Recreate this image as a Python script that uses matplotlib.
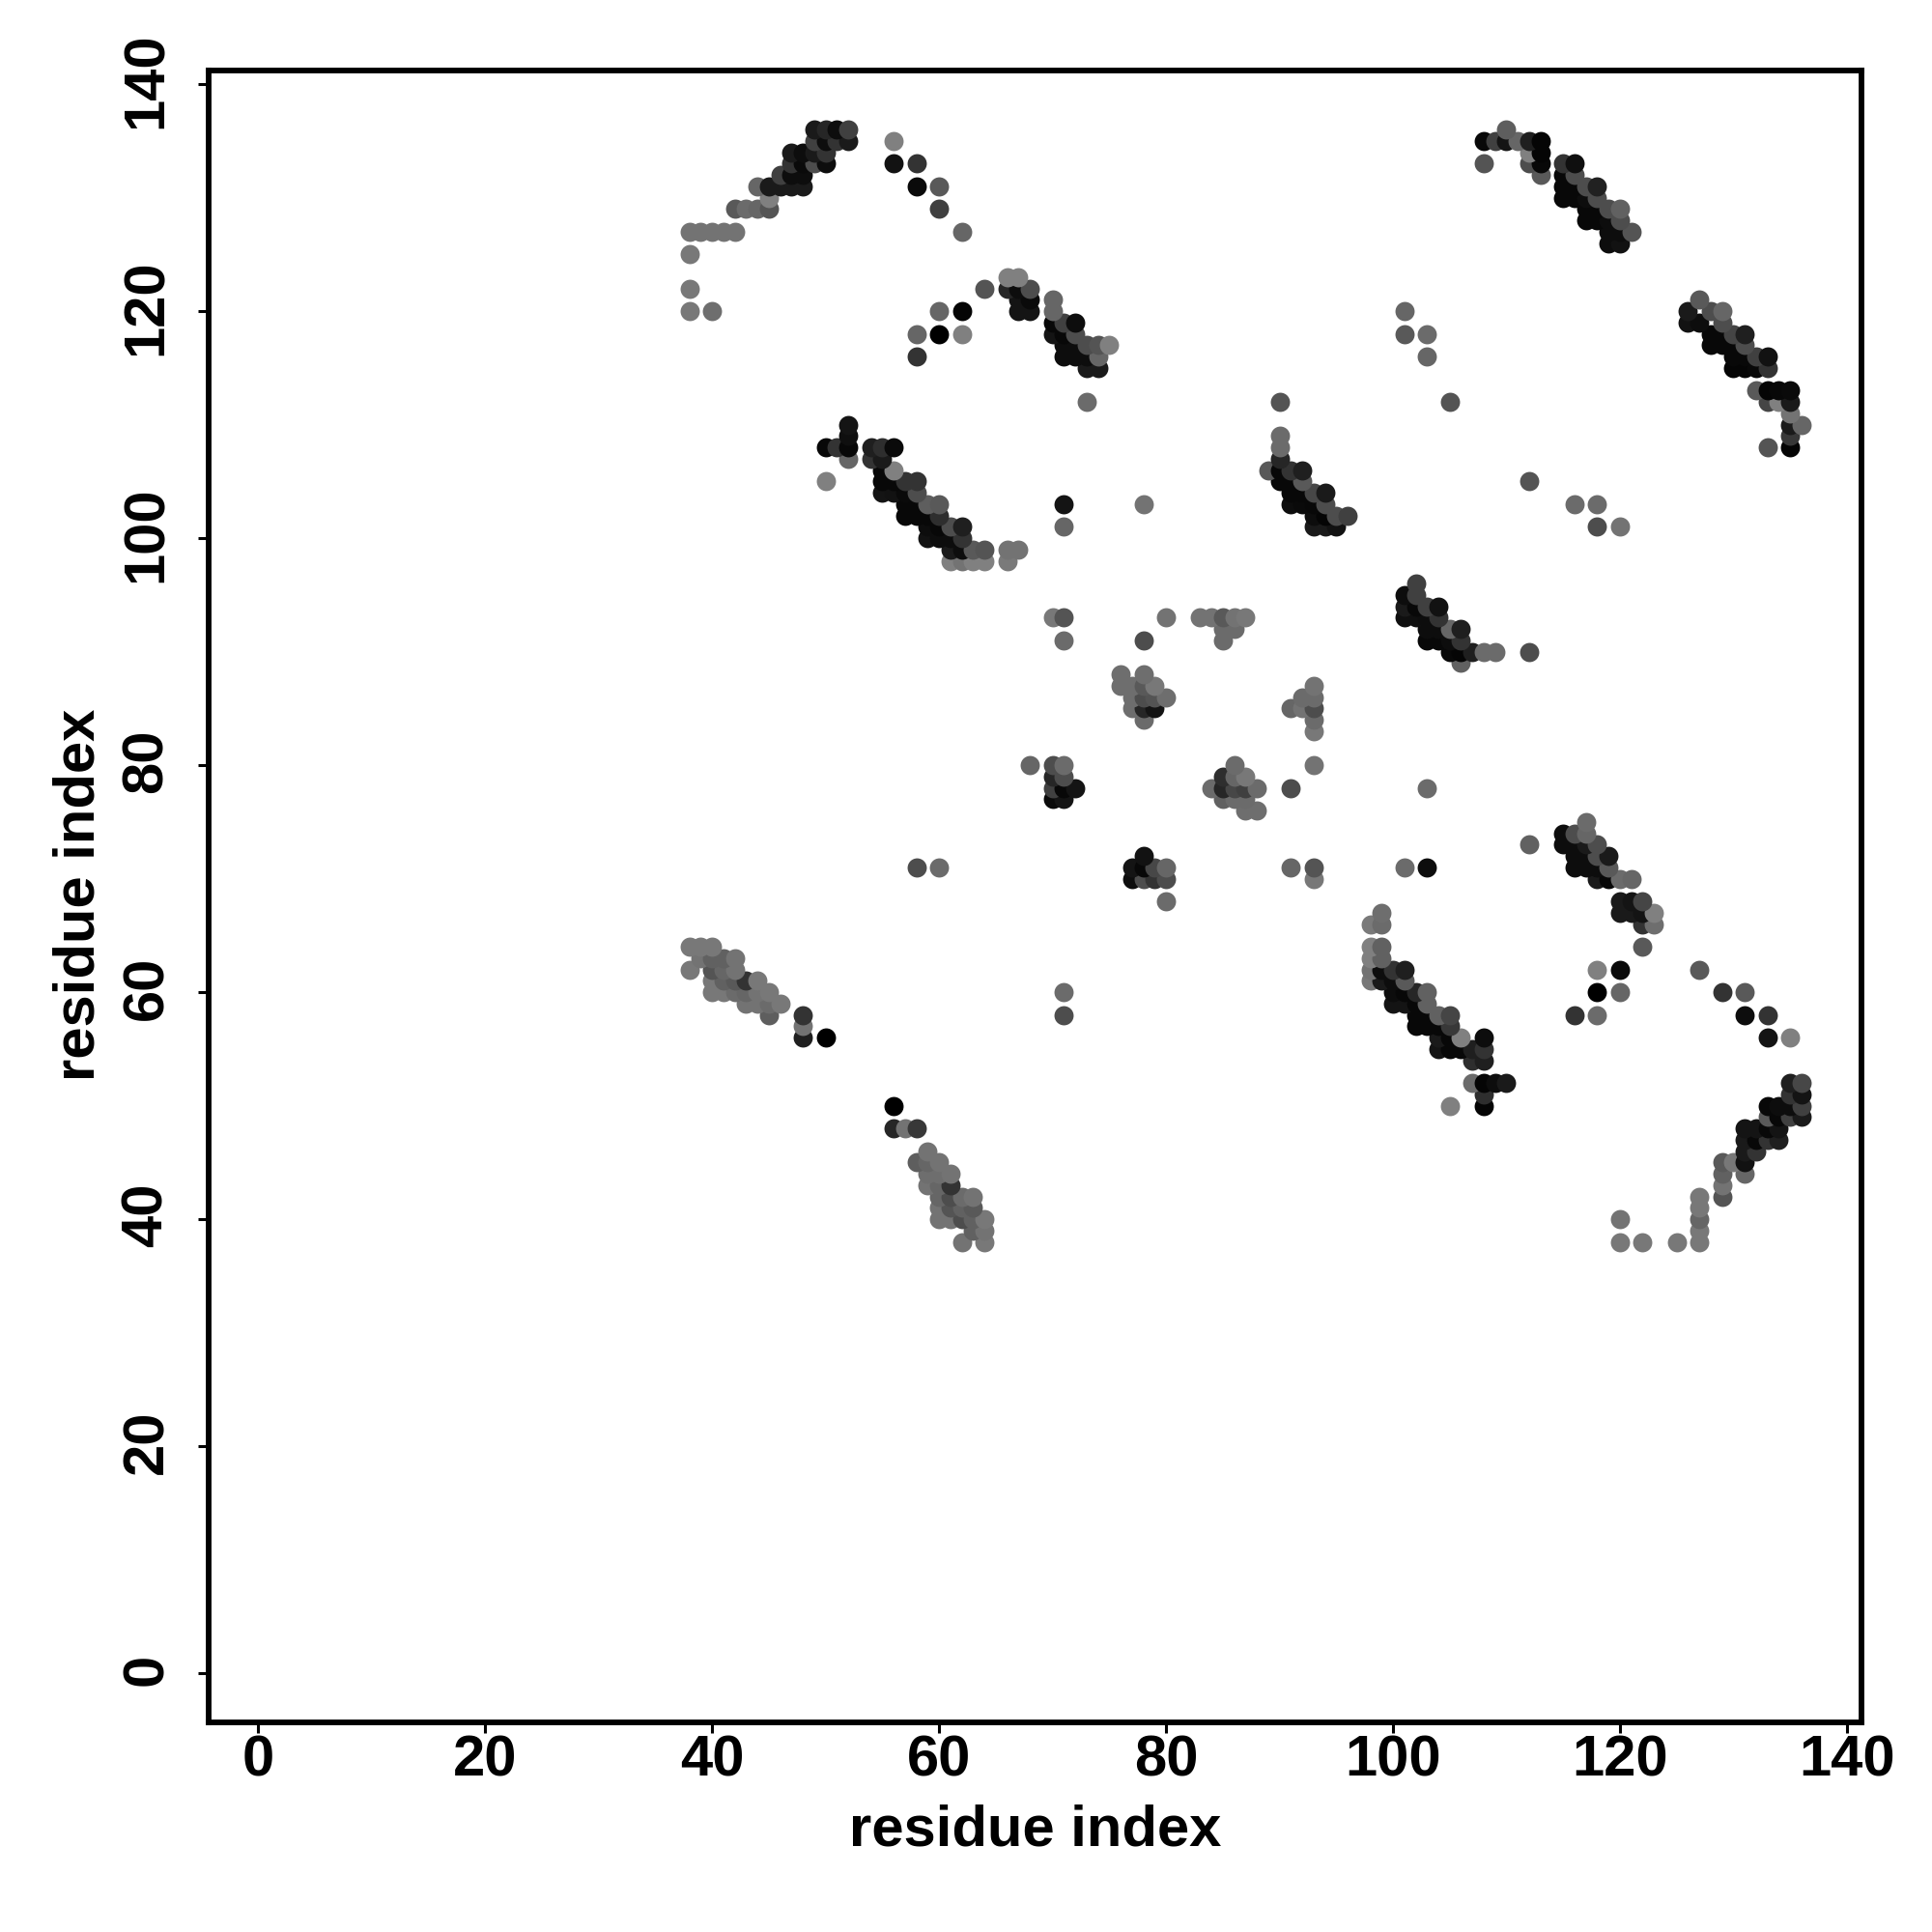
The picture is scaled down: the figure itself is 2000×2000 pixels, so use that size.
import matplotlib
matplotlib.use('Agg')
import matplotlib.pyplot as plt
from matplotlib.transforms import ScaledTranslation

plt.rcParams['font.family'] = ['Liberation Sans', 'DejaVu Sans']
plt.rcParams['font.weight'] = 'bold'

# contact rows: residue on y axis, partner residues on x axis, grey level of each dot
row_y = [38, 39, 40, 41, 42, 43, 44, 45, 46, 47, 48, 49, 50, 51, 52, 54, 55, 56, 57, 58,
         59, 60, 61, 62, 63, 64, 66, 67, 68, 70, 71, 72, 73, 74, 75, 76, 77, 78, 79, 80,
         83, 84, 85, 86, 87, 88, 89, 90, 91, 92, 93, 94, 95, 96, 98, 99, 100, 101, 102,
         103, 104, 105, 106, 107, 108, 109, 110, 111, 112, 113, 115, 116, 117, 118, 119,
         120, 121, 122, 123, 125, 126, 127, 128, 129, 130, 131, 132, 133, 134, 135, 136]
row_x = [
    [62, 64, 120, 122, 125, 127],
    [63, 64, 127],
    [60, 61, 62, 63, 64, 120, 127],
    [60, 61, 62, 63, 127],
    [60, 61, 62, 63, 127, 129],
    [59, 60, 61, 129],
    [59, 60, 61, 129, 131],
    [58, 59, 60, 129, 130, 131],
    [59, 131, 132],
    [131, 132, 133, 134],
    [56, 57, 58, 131, 132, 133, 134],
    [133, 134, 135, 136],
    [56, 105, 108, 133, 134, 135, 136],
    [108, 135, 136],
    [107, 108, 109, 110, 135, 136],
    [107, 108],
    [104, 105, 106, 107, 108],
    [48, 50, 104, 105, 106, 108, 133, 135],
    [48, 102, 103, 104, 105],
    [45, 48, 71, 102, 103, 104, 105, 116, 118, 131, 133],
    [43, 44, 45, 46, 100, 101, 102, 103],
    [40, 41, 42, 43, 44, 45, 71, 100, 101, 102, 103, 118, 120, 129, 131],
    [40, 41, 42, 43, 44, 98, 99, 100, 101],
    [38, 40, 41, 42, 98, 99, 100, 101, 118, 120, 127],
    [39, 40, 41, 42, 98, 99],
    [38, 39, 40, 98, 99, 122],
    [98, 99, 122, 123],
    [99, 120, 121, 122, 123],
    [80, 120, 121, 122],
    [77, 78, 79, 80, 93, 118, 119, 120, 121],
    [58, 60, 77, 78, 79, 80, 91, 93, 101, 103, 116, 117, 118, 119],
    [78, 116, 117, 118, 119],
    [112, 115, 116, 117, 118],
    [115, 116, 117],
    [117],
    [87, 88],
    [70, 71, 85, 86, 87],
    [70, 71, 72, 84, 85, 86, 87, 88, 91, 103],
    [70, 71, 85, 86, 87],
    [68, 70, 71, 86, 93],
    [93],
    [78, 93],
    [77, 78, 79, 91, 92, 93],
    [77, 78, 79, 80, 92, 93],
    [76, 77, 78, 79, 93],
    [76, 78],
    [106],
    [105, 106, 107, 108, 109, 112],
    [71, 78, 85, 103, 104, 105, 106],
    [85, 86, 103, 104, 105, 106],
    [70, 71, 80, 83, 84, 85, 86, 87, 101, 102, 103, 104],
    [101, 102, 103, 104],
    [101, 102],
    [102],
    [61, 62, 63, 64, 66],
    [61, 62, 63, 64, 66, 67],
    [59, 60, 61, 62],
    [59, 60, 61, 62, 71, 93, 94, 95, 118, 120],
    [57, 58, 59, 60, 93, 94, 95, 96],
    [57, 58, 59, 60, 71, 78, 91, 92, 93, 94, 116, 118],
    [55, 56, 57, 58, 91, 92, 93, 94],
    [50, 55, 56, 57, 58, 90, 91, 92, 112],
    [55, 56, 89, 90, 91, 92],
    [52, 54, 55, 90],
    [50, 51, 52, 54, 55, 56, 90, 133, 135],
    [52, 90, 135],
    [52, 135, 136],
    [135],
    [73, 90, 105, 133, 134, 135],
    [132, 133, 134, 135],
    [73, 74, 130, 131, 132, 133],
    [58, 71, 72, 73, 74, 103, 130, 131, 132, 133],
    [71, 72, 73, 74, 75, 128, 129, 130, 131],
    [58, 60, 62, 70, 71, 72, 101, 103, 128, 129, 130, 131],
    [70, 71, 72, 126, 127, 129],
    [38, 40, 60, 62, 67, 68, 70, 101, 126, 128, 129],
    [67, 68, 70, 127],
    [38, 64, 66, 67, 68],
    [66, 67],
    [38],
    [119, 120],
    [38, 39, 40, 41, 42, 62, 119, 120, 121],
    [117, 118, 119, 120],
    [42, 43, 44, 45, 60, 117, 118, 119, 120],
    [45, 115, 116, 117, 118],
    [44, 45, 46, 47, 48, 58, 60, 115, 116, 117, 118],
    [46, 47, 48, 113, 115, 116],
    [47, 48, 49, 50, 56, 58, 108, 112, 113, 115, 116],
    [47, 48, 49, 50, 112, 113],
    [49, 50, 51, 52, 56, 108, 109, 110, 111, 112, 113],
    [49, 50, 51, 52, 110],
]
row_gray = [
    [.45, .47, .47, .47, .47, .47],
    [.38, .45, .47],
    [.45, .45, .30, .38, .47, .45, .40],
    [.45, .33, .38, .35, .47],
    [.40, .30, .42, .45, .47, .33],
    [.45, .40, .20, .45],
    [.43, .43, .45, .38, .40],
    [.37, .40, .45, .35, .47, .07],
    [.45, .10, .20],
    [.10, .03, .20, .12],
    [.15, .45, .22, .08, .08, .03, .08],
    [.35, .03, .25, .10],
    [.00, .50, .02, .03, .05, .05, .25],
    [.18, .20, .08],
    [.42, .02, .05, .10, .12, .28],
    [.18, .12],
    [.08, .03, .03, .12, .20],
    [.12, .00, .10, .03, .50, .05, .08, .50],
    [.45, .03, .03, .03, .22],
    [.37, .20, .30, .03, .03, .38, .27, .20, .42, .05, .20],
    [.45, .45, .42, .47, .08, .08, .03, .38],
    [.47, .47, .42, .40, .45, .47, .42, .05, .03, .15, .38, .00, .40, .20, .35],
    [.47, .38, .35, .20, .47, .47, .10, .05, .35],
    [.47, .33, .40, .45, .45, .05, .20, .12, .50, .04, .35],
    [.45, .38, .38, .45, .50, .38],
    [.47, .47, .47, .50, .38, .35],
    [.48, .42, .20, .43],
    [.43, .10, .10, .08, .50],
    [.42, .10, .08, .27],
    [.05, .30, .20, .30, .47, .10, .03, .42, .40],
    [.30, .42, .08, .03, .28, .40, .40, .33, .42, .05, .05, .05, .05, .35],
    [.07, .05, .05, .30, .10],
    [.38, .05, .05, .10, .30],
    [.05, .30, .40],
    [.42],
    [.43, .43],
    [.04, .08, .38, .42, .42],
    [.25, .03, .08, .42, .15, .28, .25, .42, .30, .42],
    [.15, .30, .18, .40, .47],
    [.40, .30, .42, .42, .45],
    [.47],
    [.42, .42],
    [.43, .15, .08, .40, .45, .30],
    [.43, .30, .33, .43, .42, .42],
    [.43, .43, .35, .47, .45],
    [.43, .43],
    [.38],
    [.03, .02, .12, .42, .42, .30],
    [.42, .30, .42, .03, .03, .05, .20],
    [.42, .42, .05, .05, .40, .12],
    [.47, .33, .45, .45, .45, .35, .45, .47, .06, .06, .05, .20],
    [.10, .03, .25, .07],
    [.05, .25],
    [.25],
    [.50, .45, .50, .50, .48],
    [.10, .05, .35, .33, .45, .45],
    [.07, .05, .05, .20],
    [.05, .03, .30, .12, .40, .10, .10, .07, .30, .45],
    [.03, .03, .03, .18, .05, .02, .30, .25],
    [.03, .03, .37, .35, .08, .45, .05, .04, .03, .30, .42, .42],
    [.08, .07, .04, .30, .03, .03, .28, .10],
    [.50, .03, .03, .20, .20, .03, .03, .35, .33],
    [.03, .50, .35, .03, .20, .12],
    [.40, .20, .10, .15],
    [.03, .20, .03, .12, .18, .04, .42, .33, .02],
    [.06, .42, .22],
    [.08, .10, .40],
    [.45],
    [.42, .33, .33, .27, .50, .10],
    [.35, .02, .03, .04],
    [.10, .10, .02, .02, .03, .20],
    [.20, .05, .05, .05, .40, .40, .03, .03, .25, .07],
    [.05, .05, .30, .33, .50, .03, .03, .03, .30],
    [.40, .00, .50, .08, .03, .30, .35, .42, .03, .03, .27, .12],
    [.03, .25, .05, .07, .05, .30],
    [.47, .43, .40, .02, .08, .08, .40, .40, .10, .30, .40],
    [.08, .04, .40, .35],
    [.47, .33, .15, .05, .30],
    [.50, .50],
    [.47],
    [.05, .07],
    [.45, .45, .45, .45, .45, .40, .05, .05, .33],
    [.03, .03, .05, .30],
    [.35, .42, .40, .33, .25, .03, .03, .30, .38],
    [.50, .03, .03, .05, .30],
    [.40, .10, .10, .10, .10, .04, .35, .03, .03, .30, .13],
    [.25, .05, .05, .35, .03, .30],
    [.20, .04, .30, .05, .07, .20, .33, .30, .03, .20, .06],
    [.10, .05, .10, .20, .50, .02],
    [.25, .05, .20, .10, .50, .03, .25, .08, .40, .12, .02],
    [.10, .15, .05, .25, .37],
]

ticks = [0, 20, 40, 60, 80, 100, 120, 140]

fig = plt.figure(figsize=(20, 20), dpi=100)
ax = fig.add_axes([216 / 2000, 1 - 1783 / 2000, (1927 - 216) / 2000, (1783 - 73) / 2000])

for y, xs, grays in zip(row_y, row_x, row_gray):
    for x, g in zip(xs, grays):
        ax.scatter(x, y, s=205, color=str(g), linewidths=0, zorder=3)

ax.set_xlim(-4.35, 141.28)
ax.set_ylim(-4.34, 141.2)
ax.set_xticks(ticks)
ax.set_yticks(ticks)
ax.tick_params(axis='both', length=8, width=2.2, labelsize=43)
ax.tick_params(axis='x', pad=1)
ax.tick_params(axis='y', pad=18)
up = ScaledTranslation(0, 4 / 100, fig.dpi_scale_trans)
for lbl in ax.get_yticklabels():
    lbl.set_rotation(90)
    lbl.set_va('center')
    lbl.set_transform(lbl.get_transform() + up)
for side in ax.spines.values():
    side.set_linewidth(4.2)

fig.text(1072 / 2000, 1 - 1895 / 2000, 'residue index', fontsize=43, ha='center', va='center')
fig.text(82 / 2000, 1 - 926 / 2000, 'residue index', fontsize=43, ha='center', va='center', rotation=90)

fig.savefig('out.png', dpi=100, facecolor='white')
